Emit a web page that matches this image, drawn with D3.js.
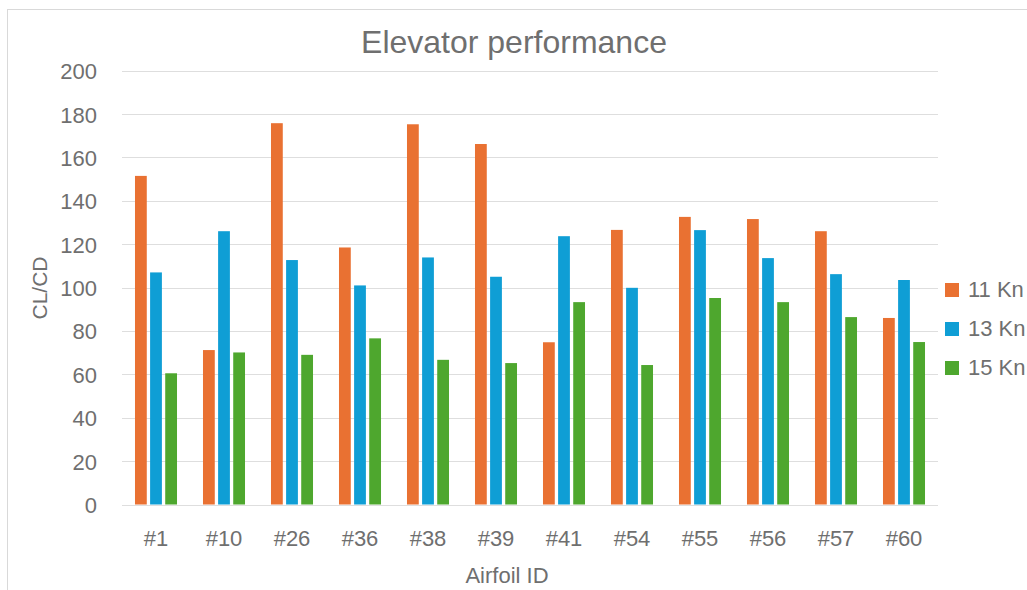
<!DOCTYPE html>
<html>
<head>
<meta charset="utf-8">
<script src="https://cdn.jsdelivr.net/npm/d3@7"></script>
<style>
  html, body { margin: 0; padding: 0; background: #fff; }
  svg { display: block; font-family: "Liberation Sans", Arial, sans-serif; }
</style>
</head>
<body>
<svg id="chart" width="1027" height="590"></svg>
<script>
// Airfoil IDs and CL/CD per wind speed
const categories = ["#1", "#10", "#26", "#36", "#38", "#39", "#41", "#54", "#55", "#56", "#57", "#60"];
const seriesNames = ["11 Kn", "13 Kn", "15 Kn"];
const kn11 = [151.5, 71.2, 175.8, 118.5, 175.3, 166.2, 74.8, 126.6, 132.6, 131.6, 126.0, 86.0];
const kn13 = [107.0, 126.0, 112.7, 101.0, 113.9, 105.0, 123.7, 99.9, 126.5, 113.6, 106.2, 103.5];
const kn15 = [60.5, 70.1, 69.0, 76.6, 66.7, 65.2, 93.3, 64.3, 95.2, 93.3, 86.4, 74.9];
const yTicks = [0, 20, 40, 60, 80, 100, 120, 140, 160, 180, 200];

const seriesValues = [kn11, kn13, kn15];
const colors = ["#E97132", "#0F9ED5", "#4EA72E"];
const textColor = "#6f6f6f";

const svg = d3.select("#chart");

// chart frame
svg.append("rect")
  .attr("x", 7.5).attr("y", 9.5)
  .attr("width", 1030).attr("height", 600)
  .attr("fill", "none").attr("stroke", "#d9d9d9").attr("stroke-width", 1);

const plot = { left: 122, right: 938, top: 70.7, bottom: 504.5 };

const x = d3.scaleBand()
  .domain(categories)
  .range([plot.left, plot.right])
  .paddingInner(0.382)
  .paddingOuter(0.191);

const xInner = d3.scaleBand()
  .domain(seriesNames)
  .range([0, x.bandwidth()])
  .paddingInner(0.22)
  .paddingOuter(0);

const y = d3.scaleLinear().domain([0, 200]).range([plot.bottom, plot.top]);

// gridlines
svg.append("g")
  .selectAll("line")
  .data(yTicks)
  .join("line")
  .attr("x1", plot.left).attr("x2", plot.right)
  .attr("y1", d => Math.round(y(d)) + 0.5)
  .attr("y2", d => Math.round(y(d)) + 0.5)
  .attr("stroke", "#dedede").attr("stroke-width", 1);

// y axis labels
const yAxis = d3.axisLeft(y).tickValues(yTicks).tickSize(0).tickPadding(0);
const gy = svg.append("g").attr("transform", "translate(97,0)").call(yAxis);
gy.select(".domain").remove();
gy.selectAll("text")
  .attr("fill", textColor)
  .style("font-size", "22px")
  .attr("dy", "0.36em");

// x axis labels
const xAxis = d3.axisBottom(x).tickSize(0).tickPadding(0);
const gx = svg.append("g").attr("transform", "translate(0,530)").call(xAxis);
gx.select(".domain").remove();
gx.selectAll("text")
  .attr("fill", textColor)
  .style("font-size", "22px")
  .attr("dy", "0.71em");

// bars
const groups = svg.append("g")
  .selectAll("g")
  .data(categories)
  .join("g")
  .attr("transform", d => `translate(${x(d)},0)`);

groups.selectAll("rect")
  .data((d, i) => seriesNames.map((s, k) => ({ s, k, v: seriesValues[k][i] })))
  .join("rect")
  .attr("x", d => xInner(d.s))
  .attr("width", xInner.bandwidth())
  .attr("y", d => y(d.v))
  .attr("height", d => y(0) - y(d.v))
  .attr("fill", d => colors[d.k]);

// title
svg.append("text")
  .attr("x", 514).attr("y", 53)
  .attr("text-anchor", "middle")
  .attr("fill", textColor)
  .style("font-size", "32px")
  .text("Elevator performance");

// axis titles
svg.append("text")
  .attr("x", 507).attr("y", 583)
  .attr("text-anchor", "middle")
  .attr("fill", textColor)
  .style("font-size", "22px")
  .text("Airfoil ID");

svg.append("text")
  .attr("transform", "translate(47,288) rotate(-90)")
  .attr("text-anchor", "middle")
  .attr("fill", textColor)
  .style("font-size", "21px")
  .text("CL/CD");

// legend
const legend = svg.append("g")
  .selectAll("g")
  .data(seriesNames)
  .join("g")
  .attr("transform", (d, i) => `translate(945,${283 + i * 39})`);

legend.append("rect")
  .attr("width", 14).attr("height", 14)
  .attr("fill", (d, i) => colors[i]);

legend.append("text")
  .attr("x", 23).attr("y", 14)
  .attr("fill", textColor)
  .style("font-size", "22px")
  .text(d => d);
</script>
</body>
</html>
